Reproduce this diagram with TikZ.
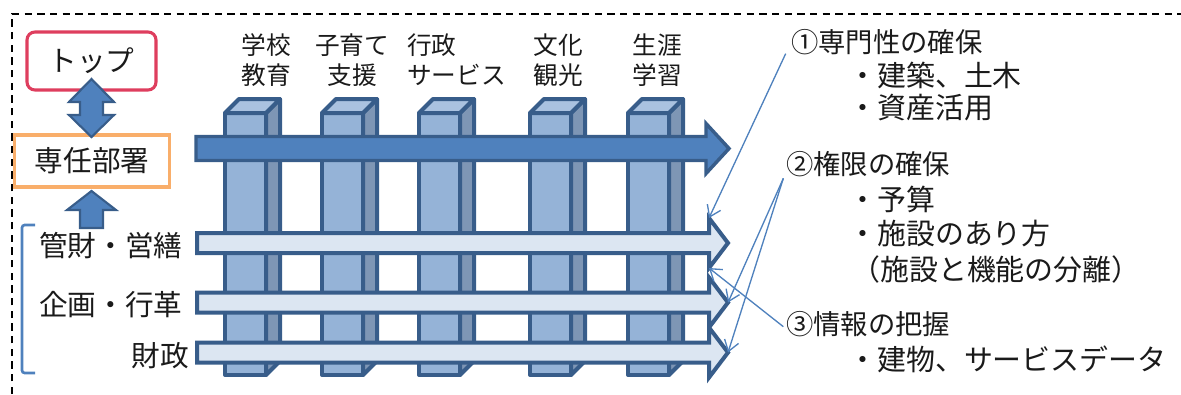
\documentclass[tikz,border=0pt]{standalone}
\usepackage{fontspec}
\setmainfont{Noto Sans CJK JP}
\usetikzlibrary{arrows.meta}
\definecolor{bordblue}{HTML}{385D8A}
\definecolor{midblue}{HTML}{4F81BD}
\definecolor{frontblue}{HTML}{95B3D7}
\definecolor{sideblue}{HTML}{7E96B5}
\definecolor{topblue}{HTML}{AAC2E0}
\definecolor{paleblue}{HTML}{DCE6F2}
\definecolor{topred}{HTML}{DE3E5E}
\definecolor{boxorange}{HTML}{F9AE6A}
\definecolor{ink}{HTML}{1A1A1A}
\tikzset{
 pillar/.style={draw=bordblue, line width=3pt, line join=round},
 bigarrow/.style={draw=bordblue, fill=midblue, line width=2.6pt},
 rowarrow/.style={draw=bordblue, fill=paleblue, line width=3pt},
 colhead/.style={font=\fontsize{18.5}{22.5}\selectfont, text=ink, inner sep=0},
 lefthead/.style={font=\fontsize{21.5}{26}\selectfont, text=ink, inner sep=0},
 note/.style={font=\fontsize{20.5}{24}\selectfont, text=ink, inner sep=0, anchor=west},
 subnote/.style={note, font=\fontsize{21.7}{26}\selectfont}
}
\begin{document}
\begin{tikzpicture}[x=0.75pt, y=-0.75pt]
\useasboundingbox (0,0) rectangle (1181,394);
% frame
\draw[black, line width=1.1pt, dash pattern=on 5.5pt off 4pt] (12,394) -- (12,14) -- (1181,14);
% pillars
\foreach \x in {225,322,419,530,628} {
 \filldraw[pillar, fill=frontblue] (\x,113) rectangle ++(41,262);
 \filldraw[pillar, fill=sideblue] (\x+41,113) -- ++(14,-14) -- ++(0,262) -- ++(-14,14) -- cycle;
 \filldraw[pillar, fill=topblue] (\x,113) -- ++(14,-14) -- ++(41,0) -- ++(-14,14) -- cycle;
}
\node[colhead, align=center] (school) at (266,60) {学校\\教育};
\node[colhead, align=center] (child) at (352,60) {子育て\\支援};
\node[colhead, align=left, anchor=west] (admin) at (407,60) {行政\\サービス};
\node[colhead, align=center] (culture) at (558,60) {文化\\観光};
\node[colhead, align=center] (learn) at (657,60) {生涯\\学習};
% main arrow
\filldraw[bigarrow] (196,136.5) -- (706,136.5) -- (706,123.5) -- (729,148.5) -- (706,173.5) -- (706,160.5) -- (196,160.5) -- cycle;
% row arrows
\foreach \y/\n in {243/1,302.5/2,352.5/3} {
 \filldraw[rowarrow] (197,\y-10) -- (709,\y-10) -- (709,\y-25) -- (728,\y) -- (709,\y+25) -- (709,\y+10) -- (197,\y+10) -- cycle;
 \coordinate (tip\n) at (728,\y);
 \coordinate (up\n) at (709,\y-25);
 \coordinate (lo\n) at (709,\y+25);
}
% left side
\node[lefthead, draw=topred, line width=2.3pt, rounded corners=6pt, minimum width=96.75pt, minimum height=43.5pt] (top) at (91.5,61) {トップ};
\node[lefthead, draw=boxorange, line width=2.3pt, minimum width=116pt, minimum height=39pt] (unit) at (92,161) {専任部署};
\filldraw[draw=bordblue, fill=midblue, line width=1.6pt] (91.5,79) -- (114,102) -- (103,102) -- (103,115) -- (114,115) -- (91.5,137) -- (69,115) -- (80,115) -- (80,102) -- (69,102) -- cycle;
\filldraw[draw=bordblue, fill=midblue, line width=1.6pt] (91.5,191) -- (116,210) -- (103,210) -- (103,228) -- (80,228) -- (80,210) -- (67,210) -- cycle;
\draw[midblue, line width=2pt, rounded corners=2pt] (35,225) -- (22,225) -- (22,373) -- (35,373);
\node[lefthead, anchor=west] (kanzai) at (39,246) {管財・営繕};
\node[lefthead, anchor=west] (kikaku) at (39,305) {企画・行革};
\node[lefthead, anchor=east] (zaisei) at (189,356) {財政};
% notes
\node[note] (p1) at (791,42) {①専門性の確保};
\node[subnote] (p1a) at (848,75) {・建築、土木};
\node[subnote] (p1b) at (848,108) {・資産活用};
\node[note] (p2) at (786,164) {②権限の確保};
\node[subnote] (p2a) at (848,199) {・予算};
\node[subnote] (p2b) at (848,234) {・施設のあり方};
\node[subnote] (p2c) at (851,269) {（施設と機能の分離）};
\node[note] (p3) at (786,324) {③情報の把握};
\node[subnote] (p3a) at (848,359) {・建物、サービスデータ};
% pointers
\tikzset{pointer/.style={midblue, line width=1pt, -{Straight Barb[length=8pt,width=11pt]}}}
\draw[pointer] ([xshift=-4pt,yshift=1pt]p1.south west) -- (up1);
\draw[pointer] ([xshift=-2pt,yshift=-1pt]p2.south west) -- (tip2);
\draw[pointer] ([xshift=-2pt,yshift=-1pt]p2.south west) -- (tip3);
\draw[pointer] ([xshift=-2pt,yshift=-2pt]p3.west) -- (lo1);
\end{tikzpicture}
\end{document}
